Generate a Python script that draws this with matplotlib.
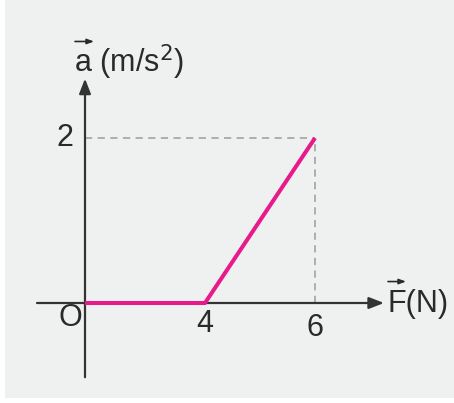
import numpy as np
import matplotlib.pyplot as plt
from matplotlib.patches import Rectangle

plt.rcParams['font.family'] = ['Liberation Sans', 'DejaVu Sans']

# 数据：a-F 图像
F = [0, 4, 6]
a = [0, 0, 2]
xticks = [4, 6]
xtick_labels = ['4', '6']
yticks = [2]
ytick_labels = ['2']

# 原图横轴不按比例：0-4 每单位较窄，4-6 每单位较宽
def fwd(x):
    x = np.asarray(x, dtype=float)
    return np.where(x <= 4, 30 * x, 120 + 55 * (x - 4))

def inv(u):
    u = np.asarray(u, dtype=float)
    return np.where(u <= 120, u / 30, 4 + (u - 120) / 55)

def px(u):
    return float(inv(u))

W, H = 454, 403
fig = plt.figure(figsize=(W / 100, H / 100), dpi=100, facecolor='white')
fig.patches.append(Rectangle((5 / W, 5 / H), 1 - 5 / W, 1 - 5 / H,
                             transform=fig.transFigure, facecolor='#eff1f0',
                             edgecolor='none', zorder=-5))
ax = fig.add_axes([0, 0, 1, 1])
ax.set_xscale('function', functions=(fwd, inv))
ax.set_xlim(px(-85), px(369))
ax.set_ylim(-100 / 82.5, 303 / 82.5)
ax.axis('off')
ax.patch.set_alpha(0)

axc = '#333333'
tc = '#2a2a2a'
# 坐标轴
ax.annotate('', xy=(px(299), 0), xytext=(px(-48), 0),
            arrowprops=dict(arrowstyle='-|>,head_length=0.9,head_width=0.35',
                            color=axc, lw=1.6, shrinkA=0, shrinkB=0))
ax.annotate('', xy=(0, 2.72), xytext=(0, -0.9),
            arrowprops=dict(arrowstyle='-|>,head_length=0.9,head_width=0.35',
                            color=axc, lw=1.6, shrinkA=0, shrinkB=0))

# 虚线
ax.plot([0, F[2]], [a[2], a[2]], ls=(0, (4, 3)), color='#a8a8a8', lw=1.3)
ax.plot([F[2], F[2]], [0, a[2]], ls=(0, (4, 3)), color='#a8a8a8', lw=1.3)

# 图线
ax.plot(F, a, color='#e8198b', lw=2.9, solid_capstyle='butt', zorder=5)

fs = 22
ax.text(xticks[0], -0.25, xtick_labels[0], ha='center', va='center', fontsize=fs, color=tc)
ax.text(xticks[1], -0.30, xtick_labels[1], ha='center', va='center', fontsize=fs, color=tc)
ax.text(px(-20), yticks[0], ytick_labels[0], ha='center', va='center', fontsize=fs, color=tc)
ax.text(px(-15), -0.18, 'O', ha='center', va='center', fontsize=fs, color=tc)

ax.text(px(-11), 2.80, r'a (m/s$^2$)', ha='left', va='baseline',
        fontsize=fs, color=tc)
ax.text(px(302), -0.01, 'F(N)', ha='left', va='center', fontsize=fs, color=tc)

# 矢量箭头
ax.annotate('', xy=(px(9), 3.17), xytext=(px(-10), 3.17),
            arrowprops=dict(arrowstyle='-|>,head_length=0.4,head_width=0.15',
                            color=tc, lw=1.2, shrinkA=0, shrinkB=0))
ax.annotate('', xy=(px(321), 0.26), xytext=(px(303), 0.26),
            arrowprops=dict(arrowstyle='-|>,head_length=0.4,head_width=0.15',
                            color=tc, lw=1.2, shrinkA=0, shrinkB=0))

fig.savefig('out.png', dpi=100, facecolor=fig.get_facecolor())
